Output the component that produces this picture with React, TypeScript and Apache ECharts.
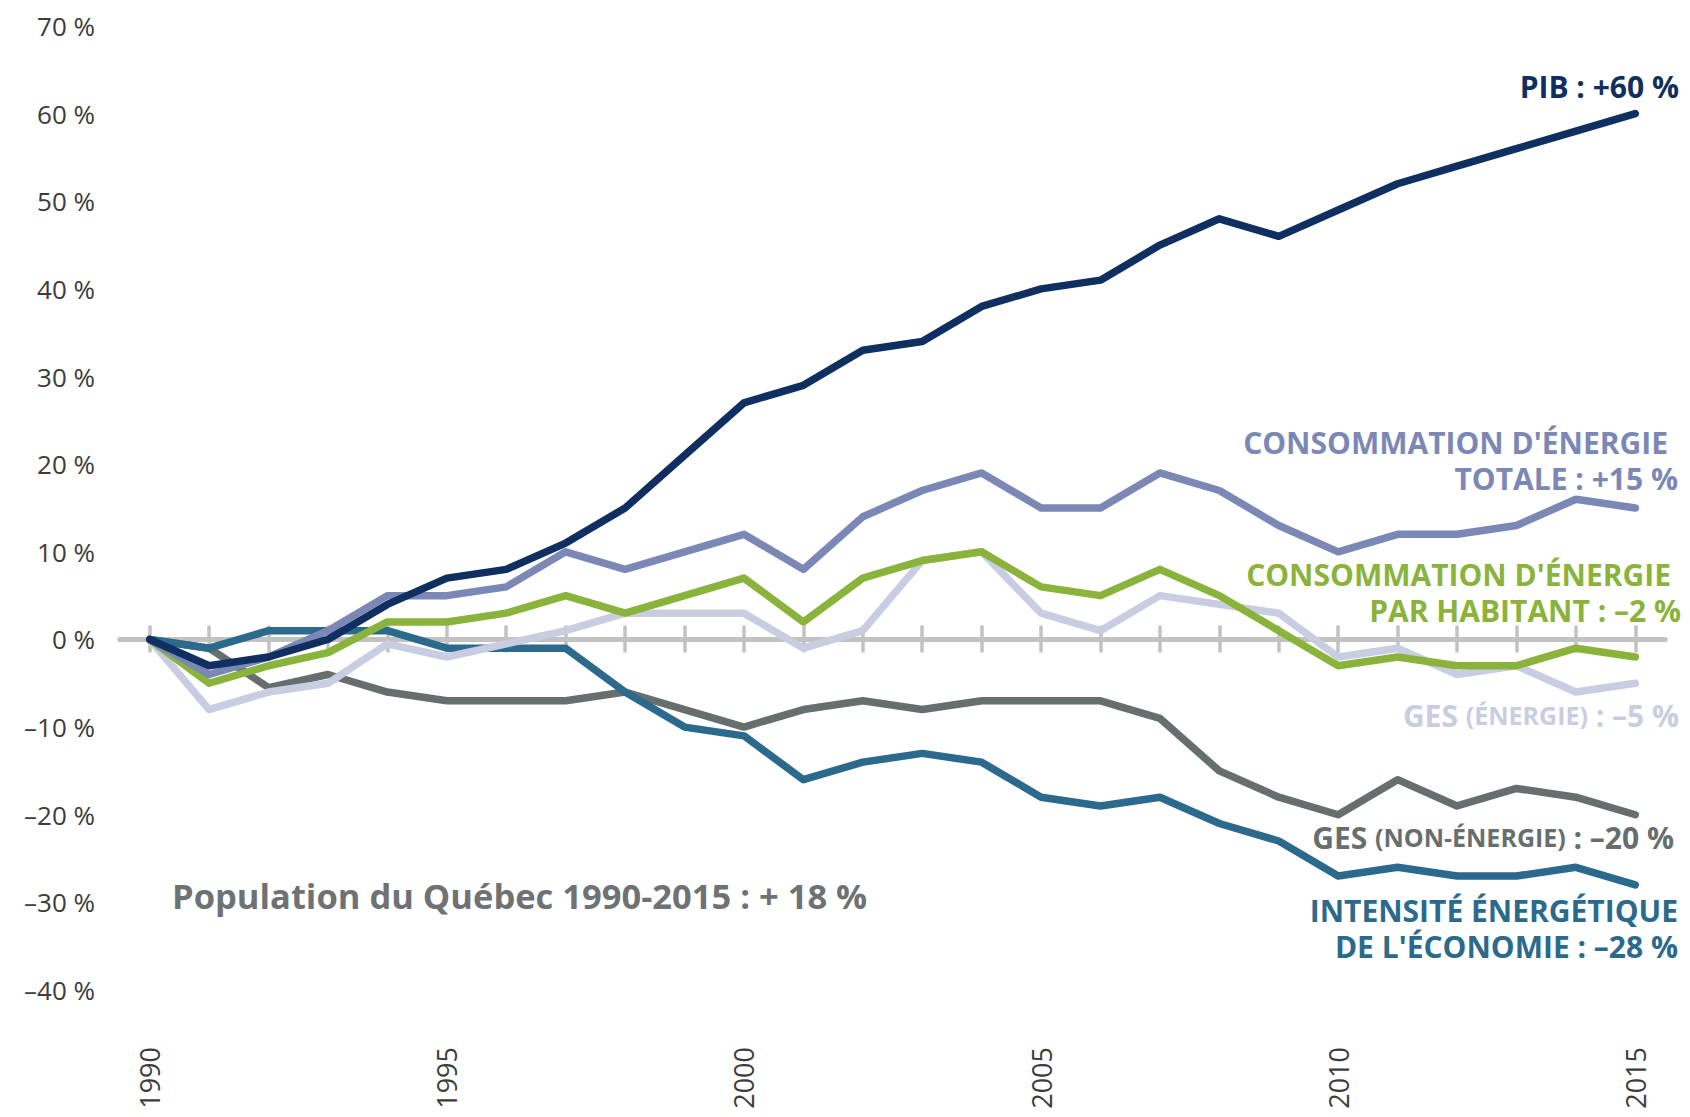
import React, { useEffect, useRef } from "react";
import * as echarts from "echarts";

const years = [
  "1990", "1991", "1992", "1993", "1994", "1995", "1996", "1997", "1998", "1999",
  "2000", "2001", "2002", "2003", "2004", "2005", "2006", "2007", "2008", "2009",
  "2010", "2011", "2012", "2013", "2014", "2015",
];

const pib = [0, -3, -2, 0, 4, 7, 8, 11, 15, 21, 27, 29, 33, 34, 38, 40, 41, 45, 48, 46, 49, 52, 54, 56, 58, 60];
const energieTotale = [0, -4, -2, 1, 5, 5, 6, 10, 8, 10, 12, 8, 14, 17, 19, 15, 15, 19, 17, 13, 10, 12, 12, 13, 16, 15];
const energieParHabitant = [0, -5, -3, -1.5, 2, 2, 3, 5, 3, 5, 7, 2, 7, 9, 10, 6, 5, 8, 5, 1, -3, -2, -3, -3, -1, -2];
const gesEnergie = [0, -8, -6, -5, -0.5, -2, -0.5, 1, 3, 3, 3, -1, 1, 9, 10, 3, 1, 5, 4, 3, -2, -1, -4, -3, -6, -5];
const gesNonEnergie = [0, -1, -5.5, -4, -6, -7, -7, -7, -6, -8, -10, -8, -7, -8, -7, -7, -7, -9, -15, -18, -20, -16, -19, -17, -18, -20];
const intensite = [0, -1, 1, 1, 1, -1, -1, -1, -6, -10, -11, -16, -14, -13, -14, -18, -19, -18, -21, -23, -27, -26, -27, -27, -26, -28];

const C_PIB = "#0f2f60";
const C_TOT = "#7b88b6";
const C_HAB = "#8ab33b";
const C_GESE = "#c9cde1";
const C_GESN = "#676e6e";
const C_INT = "#2b6a8c";
const C_AXIS = "#c2c2c2";
const FONT = "'Open Sans', 'DejaVu Sans', sans-serif";

const GRID = { left: 120, right: 25, top: 26, bottom: 127 };

function label(x: number, y: number, text: string, color: string, size = 30, align = "right", weight: any = "bold") {
  return {
    type: "text",
    x,
    y,
    style: {
      text,
      fill: color,
      fontSize: size,
      fontWeight: weight,
      fontFamily: FONT,
      align,
      verticalAlign: "middle",
      textAlign: align,
      textVerticalAlign: "middle",
    },
  };
}

// two-line right-aligned label; first line pushed left by `inset` px
function twoLine(x: number, yMid: number, l1: string, l2: string, color: string, inset: number) {
  const a = { fontSize: 30, fontWeight: "bold", fontFamily: FONT, fill: color, color, lineHeight: 36 };
  return {
    type: "text",
    x,
    y: yMid,
    style: {
      text: inset > 0 ? `{a|${l1}}{s| }\n{a|${l2}}` : `{a|${l1}}\n{a|${l2}}`,
      fill: color,
      align: "right",
      verticalAlign: "middle",
      textAlign: "right",
      textVerticalAlign: "middle",
      rich: {
        a,
        s: { ...a, width: inset },
      },
    },
  };
}

function richLabel(x: number, y: number, parts: [string, string, string], color: string) {
  return {
    type: "text",
    x,
    y,
    style: {
      text: `{a|${parts[0]}}{b|${parts[1]}}{a|${parts[2]}}`,
      fill: color,
      align: "right",
      verticalAlign: "middle",
      textAlign: "right",
      textVerticalAlign: "middle",
      rich: {
        a: { fontSize: 30, fontWeight: "bold", fontFamily: FONT, fill: color, color },
        b: { fontSize: 25, fontWeight: "bold", fontFamily: FONT, fill: color, color },
      },
    },
  };
}

function lineSeries(name: string, data: number[], color: string) {
  return {
    name,
    type: "line",
    xAxisIndex: 0,
    yAxisIndex: 0,
    data,
    symbol: "none",
    lineStyle: { color, width: 7.5, cap: "round", join: "round" },
    itemStyle: { color },
  };
}

export default function App() {
  const ref = useRef<HTMLDivElement>(null);

  useEffect(() => {
    document.body.style.margin = "0";
    const chart = echarts.init(ref.current!, undefined, { renderer: "svg" });
    const baseX = {
      type: "category",
      data: years,
      boundaryGap: true,
    };
    chart.setOption({
      animation: false,
      backgroundColor: "#ffffff",
      grid: [
        { ...GRID, containLabel: false },
        { ...GRID, containLabel: false },
      ],
      xAxis: [
        {
          ...baseX,
          gridIndex: 0,
          position: "bottom",
          axisLine: { show: true, onZero: true, lineStyle: { color: C_AXIS, width: 5 } },
          axisTick: { show: true, alignWithLabel: true, interval: 0, length: 13, lineStyle: { color: C_AXIS, width: 3.5 } },
          axisLabel: { show: false },
          splitLine: { show: false },
        },
        {
          ...baseX,
          gridIndex: 1,
          position: "top",
          axisLine: { show: true, onZero: true, lineStyle: { color: C_AXIS, width: 5 } },
          axisTick: { show: true, alignWithLabel: true, interval: 0, length: 14, lineStyle: { color: C_AXIS, width: 3.5 } },
          axisLabel: { show: false },
          splitLine: { show: false },
        },
        {
          ...baseX,
          gridIndex: 1,
          position: "bottom",
          axisLine: { show: false, onZero: false },
          axisTick: { show: false },
          axisLabel: {
            show: true,
            interval: (idx: number) => idx % 5 === 0,
            rotate: 90,
            margin: 57,
            color: "#3c3c3c",
            fontSize: 27,
            fontFamily: FONT,
          },
          splitLine: { show: false },
        },
      ],
      yAxis: [
        {
          type: "value",
          gridIndex: 0,
          min: -40,
          max: 70,
          interval: 10,
          axisLine: { show: false },
          axisTick: { show: false },
          splitLine: { show: false },
          axisLabel: {
            margin: 25,
            color: "#3c3c3c",
            fontSize: 26,
            fontFamily: FONT,
            formatter: (v: number) => (v < 0 ? "\u2013" + Math.abs(v) : String(v)) + " %",
          },
        },
        {
          type: "value",
          gridIndex: 1,
          min: -40,
          max: 70,
          interval: 10,
          axisLine: { show: false },
          axisTick: { show: false },
          axisLabel: { show: false },
          splitLine: { show: false },
        },
      ],
      series: [
        lineSeries("GES (non-énergie)", gesNonEnergie, C_GESN),
        lineSeries("Intensité énergétique de l'économie", intensite, C_INT),
        lineSeries("GES (énergie)", gesEnergie, C_GESE),
        lineSeries("Consommation d'énergie par habitant", energieParHabitant, C_HAB),
        lineSeries("Consommation d'énergie totale", energieTotale, C_TOT),
        lineSeries("PIB", pib, C_PIB),
      ],
      graphic: [
        label(1679, 86, "PIB : +60 %", C_PIB),
        twoLine(1678, 460, "CONSOMMATION D'ÉNERGIE", "TOTALE : +15 %", C_TOT, 10),
        twoLine(1681, 592, "CONSOMMATION D'ÉNERGIE", "PAR HABITANT : \u20132 %", C_HAB, 10),
        richLabel(1679, 715, ["GES ", "(ÉNERGIE)", " : \u20135 %"], C_GESE),
        richLabel(1674, 837, ["GES ", "(NON-ÉNERGIE)", " : \u201320 %"], C_GESN),
        twoLine(1678, 928, "INTENSITÉ ÉNERGÉTIQUE", "DE L'ÉCONOMIE : \u201328 %", C_INT, 0),
        label(172, 895, "Population du Québec 1990-2015 : + 18 %", "#6f7274", 34.5, "left", "bold"),
      ],
    });
    return () => chart.dispose();
  }, []);

  return <div ref={ref} style={{ width: 1690, height: 1117 }} />;
}
